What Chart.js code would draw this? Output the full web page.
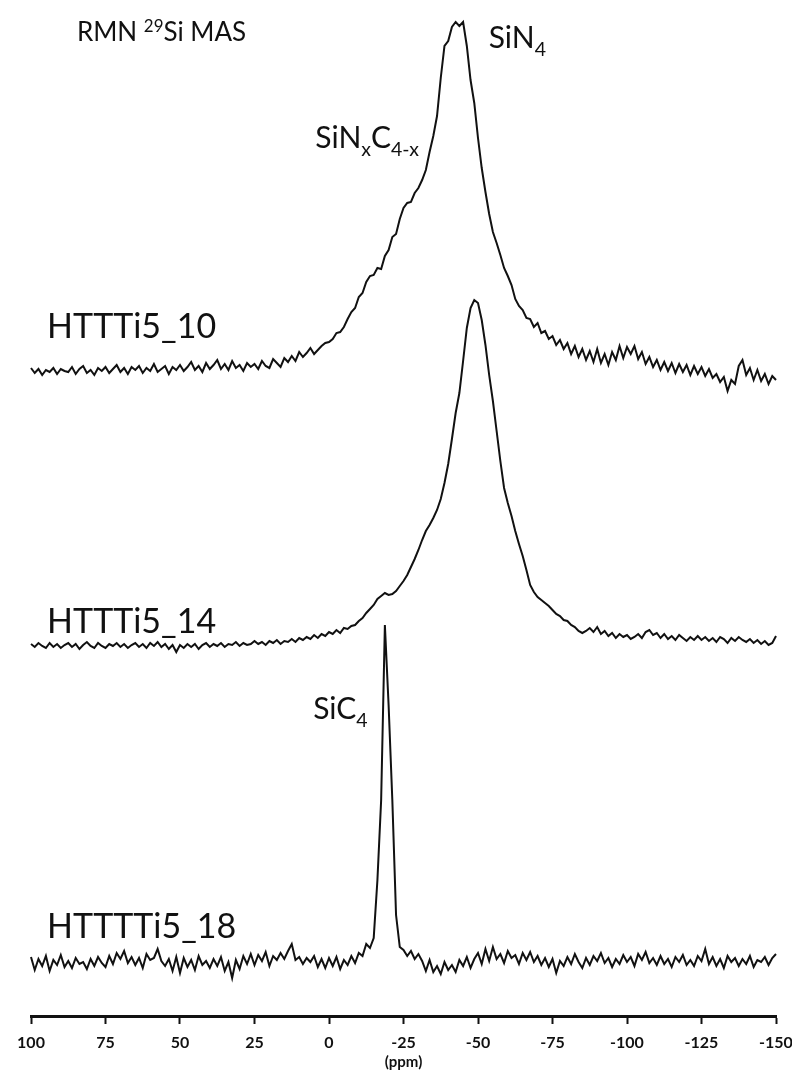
<!DOCTYPE html>
<html>
<head>
<meta charset="utf-8">
<script src="https://cdn.jsdelivr.net/npm/chart.js@4.4.1/dist/chart.umd.min.js"></script>
<style>
  html, body { margin: 0; padding: 0; background: #fff; }
  #wrap { width: 792px; height: 1079px; }
</style>
</head>
<body>
<div id="wrap"><canvas id="nmr" width="792" height="1079"></canvas></div>
<script>
// chemical shift sampling (ppm): 100 down to -150, every 1.25 ppm
const PPM_START = 100;
const PPM_STEP = -1.25;

// x axis tick labels
const tickValues = [100, 75, 50, 25, 0, -25, -50, -75, -100, -125, -150];

// vertical stacking of the three spectra (arbitrary intensity units)
const offset10 = 64.4;
const offset14 = 37.0;
const offset18 = 5.4;

// HTTTi5_10 : broad SiN4 / SiNxC4-x signal
const spec10 = [
  0.4, -0.1, 0.3, -0.3, 0.2, 0.0, 0.4, -0.2, 0.3, 0.1,
  0.0, 0.5, -0.2, 0.3, 0.6, -0.1, 0.2, -0.3, 0.4, 0.1,
  0.5, -0.1, 0.3, 0.7, 0.0, 0.4, -0.2, 0.5, 0.2, 0.6,
  -0.1, 0.4, 0.1, 0.8, 0.0, 0.3, 0.6, -0.2, 0.5, 0.2,
  0.7, 0.1, 0.5, 1.0, 0.2, 0.6, 0.0, 0.9, 0.3, 0.7,
  1.2, 0.3, 0.8, 0.2, 1.1, 0.4, 0.7, 0.1, 0.9, 0.5,
  0.8, 0.3, 1.1, 0.6, 0.4, 1.3, 0.9, 0.5, 1.4, 1.0,
  1.6, 1.1, 2.0, 1.5, 1.9, 2.4, 1.8, 2.2, 2.6, 2.9,
  3.0, 3.3, 3.9, 4.0, 4.5, 5.3, 6.0, 6.4, 7.5, 7.9,
  9.0, 9.6, 9.7, 10.4, 10.3, 11.6, 12.2, 13.5, 13.8, 15.3,
  16.4, 16.9, 17.0, 17.9, 18.4, 19.2, 20.2, 22.0, 23.6, 25.6,
  29.4, 32.6, 33.1, 34.5, 35.0, 34.6, 35.0, 32.6, 29.2, 26.9,
  23.4, 20.4, 18.0, 15.8, 14.0, 12.9, 11.7, 10.4, 9.6, 8.7,
  7.3, 6.6, 6.2, 5.4, 5.3, 4.5, 4.9, 3.9, 4.1, 3.3,
  3.6, 2.7, 3.2, 2.3, 2.9, 1.8, 2.6, 1.5, 2.3, 1.2,
  2.1, 1.0, 2.3, 0.9, 1.8, 0.7, 2.0, 1.2, 2.6, 1.4,
  2.5, 1.8, 2.6, 1.3, 2.0, 0.8, 1.5, 0.5, 1.2, 0.2,
  1.0, 0.1, 0.9, -0.1, 0.8, 0.0, 0.7, -0.3, 0.6, -0.2,
  0.5, -0.4, 0.3, -0.6, -0.2, -1.0, -0.5, -1.9, -0.8, -1.2,
  0.6, 1.2, -0.3, 0.4, -0.8, 0.2, -0.9, -0.2, -1.2, -0.4,
  -0.8
];

// HTTTi5_14
const spec14 = [
  0.2, -0.1, 0.3, 0.0, -0.2, 0.3, -0.1, 0.2, -0.2, 0.1,
  0.3, -0.1, 0.2, -0.3, 0.1, 0.4, 0.0, -0.2, 0.3, 0.0,
  -0.2, 0.2, 0.0, 0.3, -0.1, 0.2, -0.2, 0.1, 0.3, -0.1,
  0.2, -0.2, 0.3, 0.0, 0.4, -0.1, 0.2, -0.3, 0.1, -0.6,
  0.1, -0.2, 0.2, -0.1, 0.2, -0.3, 0.1, 0.3, -0.1, 0.2,
  0.0, 0.3, -0.1, 0.2, 0.1, 0.4, 0.0, 0.3, 0.1, 0.2,
  0.5, 0.2, 0.4, 0.1, 0.5, 0.3, 0.6, 0.2, 0.5, 0.4,
  0.7, 0.4, 0.8, 0.6, 0.9, 0.7, 1.1, 0.8, 1.2, 1.0,
  1.4, 1.2, 1.6, 1.3, 1.8, 1.7, 2.0, 2.1, 2.5, 2.8,
  3.3, 3.7, 4.1, 4.7, 5.0, 5.3, 5.1, 5.2, 5.5, 6.0,
  6.5, 7.1, 7.9, 8.7, 9.6, 10.6, 11.5, 12.1, 12.8, 13.6,
  14.7, 16.3, 18.2, 20.7, 23.3, 25.3, 28.5, 31.8, 33.8, 34.6,
  34.3, 32.6, 30.1, 27.1, 24.5, 21.5, 18.5, 15.8, 14.3, 13.0,
  11.5, 10.2, 9.0, 7.6, 6.1, 5.4, 4.9, 4.6, 4.3, 4.0,
  3.6, 3.2, 3.0, 2.6, 2.5, 2.1, 1.9, 1.5, 1.3, 1.5,
  1.8, 1.4, 1.9, 1.2, 1.5, 1.0, 1.3, 0.8, 1.2, 0.9,
  1.1, 0.7, 0.9, 1.2, 0.8, 1.4, 1.6, 1.1, 1.3, 0.8,
  1.2, 0.7, 1.0, 0.6, 1.1, 0.8, 0.5, 0.9, 0.6, 1.0,
  0.6, 0.9, 0.5, 0.8, 0.4, 0.9, 0.7, 0.3, 0.8, 0.5,
  0.9, 0.6, 0.4, 0.7, 0.3, 0.6, 0.2, 0.5, 0.1, 0.3,
  1.0
];

// HTTTTi5_18 : sharp SiC4 line
const spec18 = [
  0.5, -0.8, 0.3, -0.4, 0.6, -0.9, 0.2, -0.3, 0.7, -0.5,
  0.1, -0.6, 0.4, -0.2, 0.0, -0.7, 0.3, -0.4, 0.5, -0.1,
  -0.5, 0.6, -0.2, 0.9, 0.3, 1.1, -0.1, 0.5, -0.3, 0.4,
  -0.6, 0.8, 0.2, 0.4, 1.3, 0.1, -0.4, 0.3, -0.9, 0.5,
  -1.1, 0.4, -0.5, 0.2, -0.8, 0.6, -0.3, 0.1, -0.6, 0.3,
  -0.4, 0.5, -0.9, 0.0, -1.6, 0.2, -0.7, 0.6, -0.2, 0.8,
  -0.3, 0.7, 0.1, 1.0, -0.4, 0.6, 0.2, 0.9, 0.3, 1.1,
  1.8, 0.2, 0.5, -0.2, 0.4, 0.0, 0.6, -0.5, 0.3, -0.6,
  0.4, -0.4, 0.5, -0.7, 0.2, -0.3, 0.6, -0.1, 0.9, 0.6,
  1.8, 1.4, 2.4, 8.2, 16.2, 33.7, 25.7, 16.2, 4.7, 1.5,
  1.2, 0.6, 1.1, 0.3, 0.8, 0.1, -0.9, 0.2, -1.0, -0.4,
  -1.2, 0.0, -0.8, -0.3, -1.0, 0.2, -0.4, 0.5, -0.6, 0.3,
  0.9, -0.2, 1.3, 0.1, 1.5, 0.3, 0.8, -0.1, 1.1, 0.4,
  0.7, -0.2, 0.9, 0.2, 1.0, 0.0, 0.6, -0.3, 0.4, -0.5,
  0.3, -1.1, 0.1, -0.4, 0.5, -0.2, 0.8, 0.0, -0.6, 0.4,
  -0.3, 0.6, 0.1, 0.9, -0.1, 0.4, -0.5, 0.3, -0.2, 0.7,
  0.0, 0.5, -0.4, 0.8, 0.2, 1.0, -0.1, 0.4, -0.3, 0.6,
  -0.2, 0.3, -0.5, 0.5, 0.0, 0.7, -0.3, 0.2, -0.4, 0.6,
  0.1, 1.3, -0.2, 0.5, -0.4, 0.3, -0.6, 0.6, 0.0, 0.4,
  -0.4, 0.3, -0.2, 0.6, -0.5, 0.2, 0.0, 0.5, -0.3, 0.4,
  0.8
];

// text labels placed in data space: [text, 0 normal / -1 subscript / 1 superscript]
const notes = [
  { parts: [['RMN ', 0], ['29', 1], ['Si MAS', 0]], ppm: 84.6, val: 97.5, size: 26 },
  { parts: [['SiN', 0], ['4', -1]], ppm: -53.6, val: 96.8, size: 30 },
  { parts: [['SiN', 0], ['x', -1], ['C', 0], ['4-x', -1]], ppm: 4.6, val: 86.8, size: 30 },
  { parts: [['HTTTi5_10', 0]], ppm: 94.6, val: 67.8, size: 34 },
  { parts: [['HTTTi5_14', 0]], ppm: 94.6, val: 38.3, size: 34 },
  { parts: [['HTTTTi5_18', 0]], ppm: 94.6, val: 7.8, size: 34 },
  { parts: [['SiC', 0], ['4', -1]], ppm: 5.3, val: 29.7, size: 30 }
];

const INK = '#111';
const FONT = 'Lato, "Open Sans", "Liberation Sans", sans-serif';

const toPoints = (vals, off) => vals.map((v, k) => ({ x: PPM_START + k * PPM_STEP, y: off + v }));

const lineStyle = {
  borderColor: INK,
  borderWidth: 2,
  pointRadius: 0,
  tension: 0,
  fill: false,
  clip: 6
};

// draws the peak assignments and sample names with sub/superscripts
const notesPlugin = {
  id: 'notes',
  afterDraw(chart) {
    const { ctx, scales: { x, y } } = chart;
    ctx.save();
    ctx.fillStyle = INK;
    ctx.textBaseline = 'alphabetic';
    ctx.textAlign = 'left';
    notes.forEach(n => {
      let px = x.getPixelForValue(n.ppm);
      const py = y.getPixelForValue(n.val);
      n.parts.forEach(([txt, kind]) => {
        const sz = kind === 0 ? n.size : n.size * 0.65;
        ctx.font = `${sz}px ${FONT}`;
        const dy = kind === -1 ? n.size * 0.25 : kind === 1 ? -n.size * 0.34 : 0;
        ctx.fillText(txt, px, py + dy);
        px += ctx.measureText(txt).width;
      });
    });
    ctx.restore();
  }
};

new Chart(document.getElementById('nmr'), {
  type: 'line',
  data: {
    datasets: [
      { label: 'HTTTi5_10', data: toPoints(spec10, offset10), ...lineStyle },
      { label: 'HTTTi5_14', data: toPoints(spec14, offset14), ...lineStyle },
      { label: 'HTTTTi5_18', data: toPoints(spec18, offset18), ...lineStyle }
    ]
  },
  options: {
    responsive: false,
    devicePixelRatio: 1,
    animation: false,
    events: [],
    layout: { padding: { left: 31, right: 16, top: 16, bottom: 0 } },
    plugins: {
      legend: { display: false },
      tooltip: { enabled: false }
    },
    scales: {
      x: {
        type: 'linear',
        reverse: true,
        min: -150,
        max: 100,
        afterBuildTicks: scale => { scale.ticks = tickValues.map(v => ({ value: v })); },
        afterFit: scale => {
          // fixed axis band, end labels may overhang the side margins
          scale.height = 63;
          scale.paddingLeft = 0;
          scale.paddingRight = 0;
        },
        ticks: {
          autoSkip: false,
          maxRotation: 0,
          padding: 9,
          color: INK,
          font: { family: FONT, size: 16, weight: 'bold' },
          callback: v => String(v)
        },
        grid: {
          display: true,
          drawOnChartArea: false,
          drawTicks: true,
          tickLength: 8,
          tickWidth: 2,
          tickColor: INK
        },
        border: { display: true, color: INK, width: 3 },
        title: {
          display: true,
          text: '(ppm)',
          color: INK,
          font: { family: FONT, size: 15, weight: 'bold' },
          padding: { top: 0, bottom: 8 }
        }
      },
      y: {
        display: false,
        min: 0,
        max: 100
      }
    }
  },
  plugins: [notesPlugin]
});
</script>
</body>
</html>
